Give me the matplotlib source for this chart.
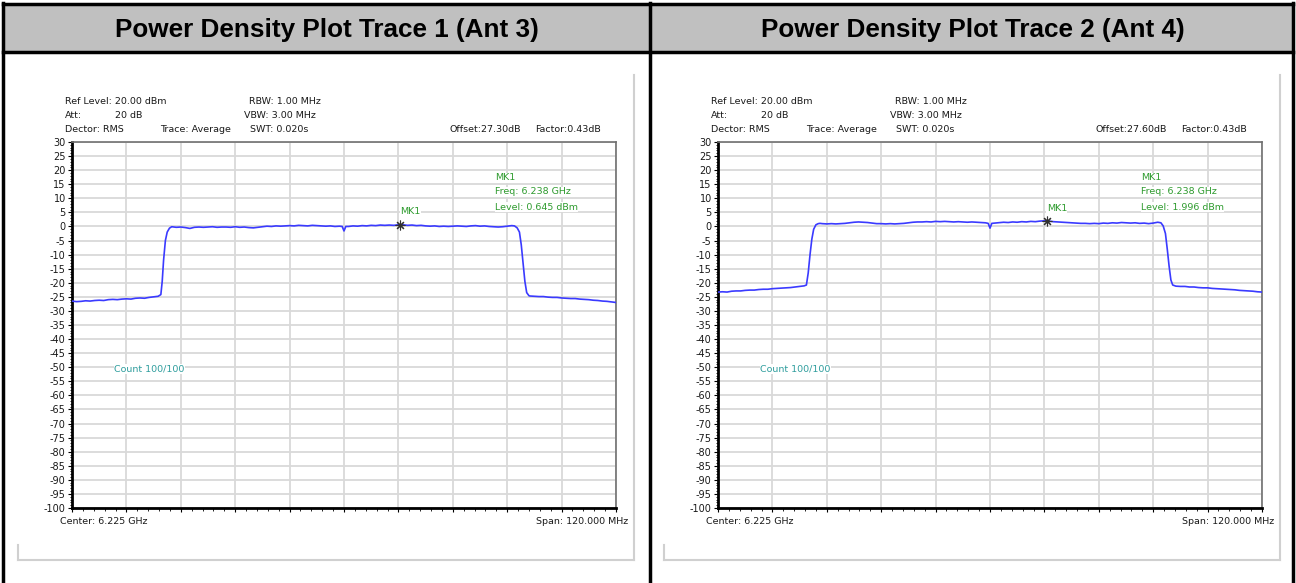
import matplotlib.pyplot as plt
import numpy as np
from matplotlib.lines import Line2D
from matplotlib.patches import Rectangle

# Panel headings and instrument settings
titles = ['Power Density Plot Trace 1 (Ant 3)', 'Power Density Plot Trace 2 (Ant 4)']
offsets = ['27.30', '27.60']
mk_freq = [12.4, 12.5]        # MHz from centre
mk_level = [0.645, 1.996]     # dBm
mk_freq_ghz = ['6.238', '6.238']

# Trace 1 (Ant 3), dBm
t1_left = [-26.5, -26.7, -26.6, -26.4, -26.5, -26.3, -26.2, -26.3, -26.0, -25.9,
           -26.0, -25.8, -25.7, -25.8, -25.5, -25.4, -25.5, -25.2, -25.0, -24.8]
t1_rise_x = [-40.4, -40.1, -39.8, -39.4, -39.0, -38.5, -38.0, -37.5]
t1_rise = [-24.2, -19.5, -12.0, -5.0, -2.0, -0.6, -0.1, -0.2]
t1_band_l = [-0.3, -0.2, -0.4, -0.7, -0.3, -0.2, -0.3, -0.2, -0.1, -0.3, -0.2, -0.2, -0.3,
             -0.1, -0.3, -0.2, -0.4, -0.5, -0.3, -0.1, 0.1, 0.0, 0.2, 0.1, 0.2, 0.3, 0.2,
             0.4, 0.3, 0.2, 0.4, 0.3, 0.2, 0.1, 0.2, 0.0, 0.1]
t1_dip = [0.0, -1.6, 0.0]
t1_band_r = [0.0, 0.2, 0.1, 0.3, 0.2, 0.4, 0.3, 0.5, 0.4, 0.5, 0.4, 0.6, 0.6, 0.4, 0.5,
             0.3, 0.4, 0.2, 0.1, 0.2, 0.0, 0.1, 0.0, 0.1, 0.2, 0.1, 0.0, 0.2, 0.3, 0.1,
             0.2, 0.0, -0.1, -0.2, -0.1, 0.1, 0.3]
t1_fall_x = [37.6, 38.2, 38.7, 39.1, 39.5, 39.9, 40.3, 40.8]
t1_fall = [0.2, -0.5, -2.0, -6.5, -13.0, -19.5, -23.5, -24.6]
t1_right = [-24.7, -24.8, -24.9, -24.9, -25.1, -25.2, -25.2, -25.4, -25.5, -25.6,
            -25.6, -25.8, -25.9, -26.0, -26.2, -26.3, -26.5, -26.6, -26.8, -27.0]

# Trace 2 (Ant 4), dBm
t2_left = [-23.3, -23.2, -23.3, -23.0, -22.9, -22.9, -22.7, -22.6, -22.6, -22.4,
           -22.3, -22.3, -22.1, -22.0, -21.9, -21.8, -21.7, -21.5, -21.3, -21.1]
t2_rise_x = [-40.5, -40.1, -39.7, -39.3, -38.9, -38.4, -37.9, -37.5]
t2_rise = [-20.8, -16.5, -10.0, -4.5, -1.0, 0.6, 1.0, 1.1]
t2_band_l = [1.0, 0.9, 1.0, 0.9, 1.0, 1.1, 1.3, 1.5, 1.6, 1.5, 1.4, 1.2, 1.0, 1.0, 0.9,
             1.0, 0.9, 1.0, 1.1, 1.3, 1.5, 1.6, 1.6, 1.7, 1.6, 1.8, 1.7, 1.8, 1.7, 1.6,
             1.7, 1.6, 1.5, 1.6, 1.5, 1.4, 1.3]
t2_dip = [1.1, -0.6, 1.1]
t2_band_r = [1.2, 1.4, 1.5, 1.4, 1.6, 1.5, 1.7, 1.6, 1.8, 1.7, 1.9, 2.0, 1.9, 1.7, 1.6,
             1.5, 1.4, 1.3, 1.2, 1.1, 1.1, 1.0, 1.1, 1.0, 1.2, 1.1, 1.3, 1.2, 1.4, 1.3,
             1.2, 1.3, 1.1, 1.2, 1.0, 1.2, 1.5]
t2_fall_x = [37.7, 38.2, 38.7, 39.1, 39.5, 39.9, 40.3, 40.8]
t2_fall = [1.3, 0.2, -2.5, -8.0, -14.0, -19.0, -20.8, -21.1]
t2_right = [-21.2, -21.3, -21.3, -21.5, -21.5, -21.7, -21.8, -21.8, -22.0, -22.1,
            -22.2, -22.3, -22.4, -22.5, -22.7, -22.8, -22.9, -23.0, -23.2, -23.3]


def build(rise_x, fall_x, parts):
    x = np.concatenate([np.arange(-60, -40), rise_x, np.arange(-37, 0), [-0.4, 0, 0.4],
                        np.arange(1, 38), fall_x, np.arange(41, 61)])
    y = np.concatenate(parts)
    return x, y


traces = [
    build(t1_rise_x, t1_fall_x, [t1_left, t1_rise, t1_band_l, t1_dip, t1_band_r, t1_fall, t1_right]),
    build(t2_rise_x, t2_fall_x, [t2_left, t2_rise, t2_band_l, t2_dip, t2_band_r, t2_fall, t2_right]),
]

W, H = 1296, 583
plt.rcParams['font.family'] = 'DejaVu Sans'
plt.rcParams['axes.unicode_minus'] = False
fig = plt.figure(figsize=(W / 100, H / 100), dpi=100)


def fx(px):
    return px / W


def fy(py):
    return 1 - py / H


def hline(x0, x1, y, color='black', lw=2.5):
    fig.add_artist(Line2D([fx(x0), fx(x1)], [fy(y), fy(y)], color=color, lw=lw))


def vline(x, y0, y1, color='black', lw=2.5):
    fig.add_artist(Line2D([fx(x), fx(x)], [fy(y0), fy(y1)], color=color, lw=lw))


# table header band and borders
fig.add_artist(Rectangle((fx(3), fy(52)), fx(1293) - fx(3), fy(4) - fy(52),
                         facecolor='#c0c0c0', edgecolor='none'))
hline(3, 1293, 4)
hline(3, 1293, 52)
vline(3, 3, 583)
vline(650, 3, 583)
vline(1293, 3, 583)

tcolor = '#1a1a1a'
green = '#2e9b2e'
fs = 6.8

for i in range(2):
    dx = 646 * i
    ax_l, ax_r, ax_t, ax_b = 72 + dx, 616 + dx, 142, 508

    fig.text(fx(327 + 646 * i), fy(30), titles[i], ha='center', va='center',
             fontsize=18.8, fontweight='bold', family='Liberation Sans')

    # light screenshot frame
    vline(634 + dx, 75, 560, color='#d0d0d0', lw=1.5)
    hline(18 + dx, 634 + dx, 560, color='#d0d0d0', lw=1.5)
    vline(18 + dx, 545, 560, color='#d0d0d0', lw=1.5)

    ax = fig.add_axes([fx(ax_l), fy(ax_b), fx(ax_r) - fx(ax_l), fy(ax_t) - fy(ax_b)])
    x, y = traces[i]
    ax.plot(x, y, color='#3a3aff', lw=1.2, zorder=3)
    ax.plot([mk_freq[i]], [mk_level[i]], marker=(8, 2, 0), color='#303030',
            markersize=7, mew=0.8, zorder=4)
    ax.annotate('MK1', (mk_freq[i], mk_level[i]), xytext=(0, 6), textcoords='offset points',
                ha='left', va='bottom', fontsize=fs, color=green, zorder=5,
                bbox=dict(facecolor='white', edgecolor='none', pad=0.3))

    ax.set_xlim(-60, 60)
    ax.set_ylim(-100, 30)
    ax.set_yticks(np.arange(-100, 31, 5))
    ax.set_yticks(np.arange(-100, 31, 1), minor=True)
    ax.set_xticks(np.arange(-60, 61, 12))
    ax.set_xticks(np.arange(-60, 61, 2.4), minor=True)
    ax.set_xticklabels([])
    ax.tick_params(axis='y', which='major', length=3, width=0.8, pad=1.5,
                   labelsize=7, labelcolor=tcolor)
    ax.tick_params(axis='y', which='minor', length=1.5, width=0.6)
    ax.tick_params(axis='x', which='major', length=3, width=0.8)
    ax.tick_params(axis='x', which='minor', length=2, width=0.6)
    ax.grid(True, which='major', color='#d9d9d9', lw=1.3)
    ax.set_axisbelow(True)
    for s in ['left', 'bottom']:
        ax.spines[s].set_linewidth(2)
        ax.spines[s].set_color('black')
    for s in ['top', 'right']:
        ax.spines[s].set_linewidth(1.2)
        ax.spines[s].set_color('#707070')

    # instrument header
    info = [
        (-7, 102, 'Ref Level: 20.00 dBm'), (-7, 115, 'Att:'), (43, 115, '20 dB'),
        (-7, 129, 'Dector: RMS'), (88, 129, 'Trace: Average'),
        (177, 102, 'RBW: 1.00 MHz'), (172, 115, 'VBW: 3.00 MHz'), (178, 129, 'SWT: 0.020s'),
        (378, 129, 'Offset:' + offsets[i] + 'dB'), (463, 129, 'Factor:0.43dB'),
    ]
    for ox, py, s in info:
        fig.text(fx(ax_l + ox), fy(py), s, ha='left', va='center', fontsize=fs, color=tcolor)

    # marker readout
    for py, s in [(178, 'MK1'), (192, 'Freq: ' + mk_freq_ghz[i] + ' GHz'),
                  (207, 'Level: ' + f'{mk_level[i]:.3f}' + ' dBm')]:
        fig.text(fx(ax_l + 423), fy(py), s, ha='left', va='center', fontsize=fs, color=green,
                 bbox=dict(facecolor='white', edgecolor='none', pad=0.3), zorder=6)

    fig.text(fx(ax_l + 42), fy(369), 'Count 100/100', ha='left', va='center', fontsize=fs,
             color='#2e9d9d', bbox=dict(facecolor='white', edgecolor='none', pad=0.3), zorder=6)

    fig.text(fx(ax_l - 12), fy(522), 'Center: 6.225 GHz', ha='left', va='center',
             fontsize=fs, color=tcolor)
    fig.text(fx(ax_r + 12), fy(522), 'Span: 120.000 MHz', ha='right', va='center',
             fontsize=fs, color=tcolor)

fig.savefig('out.png', dpi=100)
